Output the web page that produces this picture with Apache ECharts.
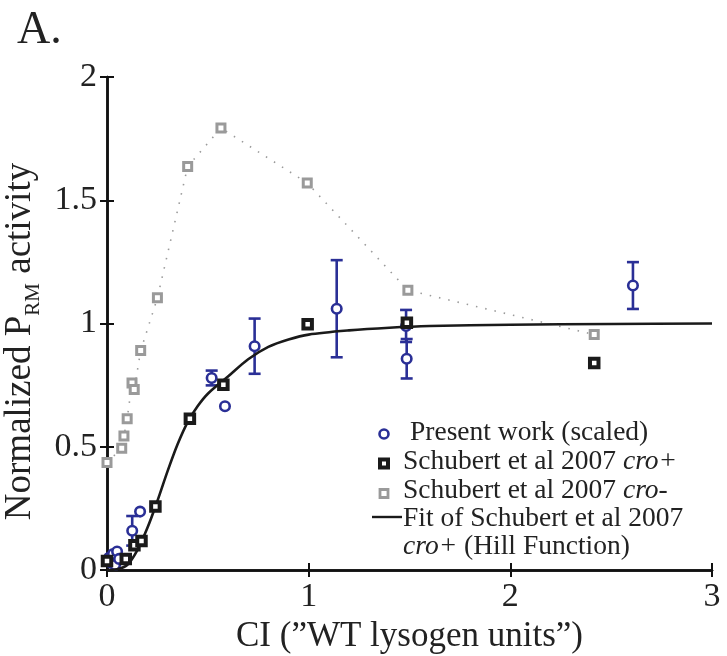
<!DOCTYPE html>
<html><head><meta charset="utf-8">
<script src="https://cdn.jsdelivr.net/npm/echarts@6/dist/echarts.min.js"></script>
<style>html,body{margin:0;padding:0;background:#fff}#c{width:727px;height:656px}</style>
</head><body><div id="c"></div>
<script>
// ---- data ----
const xTickLabels = ['0', '1', '2', '3'];
const yTickLabels = ['0', '0.5', '1', '1.5', '2'];

// Present work (scaled): x, y, error (+/-)
const presentX   = [0.010, 0.020, 0.030, 0.040, 0.050, 0.060, 0.125, 0.164, 0.519, 0.585, 0.732, 1.139, 1.483, 1.486, 2.608];
const presentY   = [0.050, 0.030, 0.065, 0.020, 0.075, 0.045, 0.159, 0.237, 0.779, 0.664, 0.908, 1.060, 0.990, 0.857, 1.154];
const presentErr = [0.010, 0.010, 0.010, 0.010, 0.010, 0.010, 0.060, 0.000, 0.030, 0.000, 0.112, 0.197, 0.065, 0.080, 0.095];

// Schubert et al 2007 cro+
const croPlusX = [0.000, 0.093, 0.136, 0.171, 0.240, 0.411, 0.577, 0.995, 1.487, 2.416];
const croPlusY = [0.037, 0.045, 0.100, 0.118, 0.258, 0.614, 0.752, 0.997, 1.003, 0.840];

// Schubert et al 2007 cro-
const croMinusX = [0.000, 0.073, 0.084, 0.100, 0.124, 0.135, 0.167, 0.250, 0.400, 0.565, 0.993, 1.492, 2.416];
const croMinusY = [0.436, 0.494, 0.544, 0.614, 0.759, 0.732, 0.890, 1.104, 1.637, 1.793, 1.570, 1.135, 0.955];

// Hill-function fit curve
const fitX = [0.00, 0.05, 0.10, 0.15, 0.20, 0.25, 0.30, 0.35, 0.40, 0.45, 0.50, 0.60, 0.70, 0.80, 0.90, 1.00, 1.20, 1.40, 1.60, 2.00, 2.50, 3.00];
const fitY = [0.000, 0.003, 0.020, 0.080, 0.170, 0.280, 0.400, 0.510, 0.600, 0.665, 0.715, 0.785, 0.855, 0.905, 0.935, 0.955, 0.972, 0.983, 0.990, 0.995, 0.998, 1.000];

// ---- chart ----
const FONT = 'Liberation Serif';
const BLUE = '#2a2f96';
const GRAY = '#9a9a9a';
const BLACK = '#1a1a1a';
const TXT = '#222';
const zip = (a, b) => a.map((v, i) => [v, b[i]]);

const chart = echarts.init(document.getElementById('c'), null, {renderer: 'canvas'});

const axisLine = {show: true, lineStyle: {color: '#111', width: 2.5}};
const ticks = {show: true, inside: true, length: 7, lineStyle: {color: '#111', width: 2}};

const errData = presentX.map((x, i) => [x, presentY[i] - presentErr[i], presentY[i] + presentErr[i]]).filter((d, i) => presentErr[i] > 0.02);

const LF = 27.5; // legend font size
const legendRich = {n: {fontFamily: FONT, fontSize: LF, fill: TXT}, i: {fontFamily: FONT, fontSize: LF, fontStyle: 'italic', fill: TXT}};

chart.setOption({
  animation: false,
  backgroundColor: '#fff',
  grid: {left: 107, right: 15, top: 77, bottom: 86, containLabel: false, outerBoundsMode: 'none'},
  xAxis: [{
    type: 'value', min: 0, max: 3, interval: 1, position: 'bottom',
    axisLine, axisTick: ticks, splitLine: {show: false},
    axisLabel: {fontFamily: FONT, fontSize: 34, color: TXT, margin: 10,
      formatter: v => xTickLabels[Math.round(v)]},
    name: 'CI (”WT lysogen units”)', nameLocation: 'middle', nameGap: 44,
    nameTextStyle: {fontFamily: FONT, fontSize: 35, color: TXT}
  }, {
    type: 'value', min: 0, max: 3, interval: 1, position: 'top',
    axisLine, axisTick: ticks, axisLabel: {show: false}, splitLine: {show: false}
  }],
  yAxis: [{
    type: 'value', min: 0, max: 2, interval: 0.5, position: 'left',
    axisLine, axisTick: ticks, splitLine: {show: false},
    axisLabel: {fontFamily: FONT, fontSize: 34, color: TXT, margin: 10,
      formatter: v => yTickLabels[Math.round(v * 2)]},
    name: '{a|Normalized P}{s|RM}{a| activity}', nameLocation: 'middle', nameGap: 56, nameRotate: 90,
    nameTextStyle: {fontFamily: FONT, fontSize: 37, color: TXT, padding: [0, 36, 0, 0],
      rich: {
        a: {fontFamily: FONT, fontSize: 37, color: TXT, lineHeight: 46, verticalAlign: 'middle'},
        s: {fontFamily: FONT, fontSize: 21, color: TXT, lineHeight: 21, verticalAlign: 'bottom'}
      }}
  }, {
    type: 'value', min: 0, max: 2, interval: 0.5, position: 'right',
    axisLine, axisTick: ticks, axisLabel: {show: false}, splitLine: {show: false}
  }],
  series: [
    {
      name: 'cro-', type: 'line', data: zip(croMinusX, croMinusY), z: 2,
      symbol: 'rect', symbolSize: 8, showAllSymbol: true,
      lineStyle: {color: GRAY, width: 1.6, type: [1.5, 8]},
      itemStyle: {color: '#fff', borderColor: GRAY, borderWidth: 3}
    },
    {
      name: 'errbars', type: 'custom', data: errData, z: 3,
      renderItem: (params, api) => {
        const x = api.value(0);
        const lo = api.coord([x, api.value(1)]);
        const hi = api.coord([x, api.value(2)]);
        const w = 6;
        const st = {stroke: BLUE, lineWidth: 2.6};
        return {type: 'group', children: [
          {type: 'line', shape: {x1: lo[0], y1: lo[1], x2: hi[0], y2: hi[1]}, style: st},
          {type: 'line', shape: {x1: lo[0] - w, y1: lo[1], x2: lo[0] + w, y2: lo[1]}, style: st},
          {type: 'line', shape: {x1: hi[0] - w, y1: hi[1], x2: hi[0] + w, y2: hi[1]}, style: st}
        ]};
      }
    },
    {
      name: 'present', type: 'scatter', data: zip(presentX, presentY), z: 4,
      symbol: 'circle', symbolSize: 9.5,
      itemStyle: {color: '#fff', borderColor: BLUE, borderWidth: 2.6, opacity: 1}
    },
    {
      name: 'fit', type: 'line', data: zip(fitX, fitY), z: 5, smooth: 0.3,
      symbol: 'none', lineStyle: {color: BLACK, width: 2.6}
    },
    {
      name: 'cro+', type: 'scatter', data: zip(croPlusX, croPlusY), z: 6,
      symbol: 'rect', symbolSize: 8.5,
      itemStyle: {color: '#fff', borderColor: BLACK, borderWidth: 4, opacity: 1}
    }
  ],
  graphic: [
    {type: 'text', left: 17, top: 8, style: {text: 'A.', fontFamily: FONT, fontSize: 46, fill: TXT}},
    // legend
    {type: 'circle', shape: {cx: 384, cy: 434, r: 4.5}, style: {fill: '#fff', stroke: BLUE, lineWidth: 2.6}},
    {type: 'text', x: 410, y: 433, style: {text: 'Present work (scaled)', fontFamily: FONT, fontSize: LF, fill: TXT, verticalAlign: 'middle'}},
    {type: 'rect', shape: {x: 380, y: 459.5, width: 8, height: 8}, style: {fill: '#fff', stroke: BLACK, lineWidth: 4}},
    {type: 'text', x: 403, y: 462, style: {text: '{n|Schubert et al 2007 }{i|cro+}', fontFamily: FONT, fontSize: LF, fill: TXT, verticalAlign: 'middle', rich: legendRich}},
    {type: 'rect', shape: {x: 380, y: 489.5, width: 8, height: 8}, style: {fill: '#fff', stroke: GRAY, lineWidth: 2.8}},
    {type: 'text', x: 403, y: 491, style: {text: '{n|Schubert et al 2007 }{i|cro-}', fontFamily: FONT, fontSize: LF, fill: TXT, verticalAlign: 'middle', rich: legendRich}},
    {type: 'line', shape: {x1: 372, y1: 517, x2: 402, y2: 517}, style: {stroke: BLACK, lineWidth: 2.4}},
    {type: 'text', x: 403, y: 519, style: {text: 'Fit of Schubert et al 2007', fontFamily: FONT, fontSize: LF, fill: TXT, verticalAlign: 'middle'}},
    {type: 'text', x: 403, y: 547, style: {text: '{i|cro+}{n| (Hill Function)}', fontFamily: FONT, fontSize: LF, fill: TXT, verticalAlign: 'middle', rich: legendRich}}
  ]
});
</script></body></html>
